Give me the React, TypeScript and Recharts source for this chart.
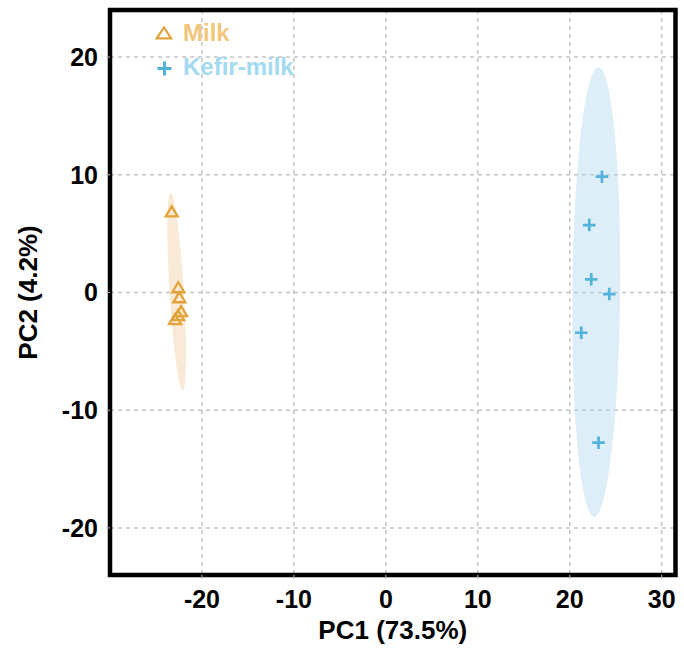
import React from 'react';
import {
  ScatterChart,
  Scatter,
  XAxis,
  YAxis,
  CartesianGrid,
  ReferenceArea,
  Legend,
} from 'recharts';

// ---- data ----
const milkX = [-23.29, -22.57, -22.46, -22.27, -22.93, -22.6];
const milkY = [6.81, 0.36, -0.49, -1.66, -2.34, -2.0];
const kefirX = [23.5, 22.12, 22.34, 24.3, 21.25, 23.13];
const kefirY = [9.84, 5.73, 1.12, -0.13, -3.42, -12.76];

// confidence ellipses: centre, semi-axes (data units) and tilt (x shift per unit y)
const milkEllipse = { cx: -22.75, cy: 0.08, rx: 0.78, ry: 8.4, tilt: -0.078 };
const kefirEllipse = { cx: 22.88, cy: 0.05, rx: 2.6, ry: 19.1, tilt: 0.012 };

const xTicks = [-20, -10, 0, 10, 20, 30];
const yTicks = [-20, -10, 0, 10, 20];
const xDomain: [number, number] = [-30, 31.5];
const yDomain: [number, number] = [-24, 24];

const milkData = milkX.map((x, i) => ({ x, y: milkY[i] }));
const kefirData = kefirX.map((x, i) => ({ x, y: kefirY[i] }));

function ellipseOutline(e: { cx: number; cy: number; rx: number; ry: number; tilt: number }) {
  const pts: { x: number; y: number }[] = [];
  const n = 90;
  for (let i = 0; i <= n; i++) {
    const t = (i / n) * Math.PI * 2;
    const dy = e.ry * Math.sin(t);
    pts.push({ x: e.cx + e.rx * Math.cos(t) + e.tilt * dy, y: e.cy + dy });
  }
  return pts;
}
const milkEllipseData = ellipseOutline(milkEllipse);
const kefirEllipseData = ellipseOutline(kefirEllipse);

const FONT = '"Liberation Sans", Arial, Helvetica, sans-serif';
const MILK_MARK = '#E2A33A';
const KEFIR_MARK = '#52B3DA';
const MILK_TEXT = '#F2C67A';
const KEFIR_TEXT = '#A2DAF0';

const filledPath = (fill: string, opacity: number) => (props: any) => {
  const pts: { x: number; y: number }[] = props.points || [];
  if (!pts.length) return <g />;
  const d = pts.map((p, i) => `${i ? 'L' : 'M'}${p.x},${p.y}`).join(' ') + ' Z';
  return <path d={d} fill={fill} fillOpacity={opacity} stroke="none" />;
};

const Triangle = (props: any) => {
  const { cx, cy } = props;
  if (cx == null || cy == null) return <g />;
  const w = 6;
  const h = 10;
  return (
    <path
      d={`M${cx},${cy - h * 0.6} L${cx + w},${cy + h * 0.4} L${cx - w},${cy + h * 0.4} Z`}
      fill="none"
      stroke={MILK_MARK}
      strokeWidth={2.3}
      strokeLinejoin="miter"
    />
  );
};

const Plus = (props: any) => {
  const { cx, cy } = props;
  if (cx == null || cy == null) return <g />;
  const r = 6.3;
  return (
    <path
      d={`M${cx - r},${cy} L${cx + r},${cy} M${cx},${cy - r} L${cx},${cy + r}`}
      stroke={KEFIR_MARK}
      strokeWidth={2.7}
      fill="none"
    />
  );
};

const Empty = () => <g />;

const LegendContent = () => (
  <div style={{ position: 'relative', width: 200, height: 70, fontFamily: FONT }}>
    <svg width={30} height={70} style={{ position: 'absolute', left: 0, top: 0 }}>
      <path d="M9,11.5 L16.2,22.3 L1.8,22.3 Z" fill="none" stroke={MILK_MARK} strokeWidth={2.2} />
      <path d="M2.5,52.5 L16.5,52.5 M9.5,45.5 L9.5,59.5" stroke={KEFIR_MARK} strokeWidth={3} fill="none" />
    </svg>
    <span
      style={{
        position: 'absolute',
        left: 28,
        top: 4.7,
        fontSize: 24,
        lineHeight: '24px',
        fontWeight: 700,
        color: MILK_TEXT,
        whiteSpace: 'nowrap',
      }}
    >
      Milk
    </span>
    <span
      style={{
        position: 'absolute',
        left: 28,
        top: 38.7,
        fontSize: 24,
        lineHeight: '24px',
        fontWeight: 700,
        color: KEFIR_TEXT,
        whiteSpace: 'nowrap',
      }}
    >
      Kefir-milk
    </span>
  </div>
);

const YTitle = (props: any) => {
  const vb = props.viewBox || {};
  const x = 37;
  const y = (vb.y || 0) + (vb.height || 0) / 2;
  return (
    <text
      x={x}
      y={y}
      transform={`rotate(-90, ${x}, ${y})`}
      textAnchor="middle"
      fontFamily={FONT}
      fontWeight={700}
      fontSize={26}
      fill="#000"
    >
      PC2 (4.2%)
    </text>
  );
};

export default function App() {
  return (
    <div style={{ position: 'absolute', left: 0, top: 0, width: 684, height: 655, background: '#fff' }}>
      <ScatterChart
        width={684}
        height={655}
        margin={{ top: 10, right: 8.5, bottom: 0, left: 0 }}
        style={{ fontFamily: FONT }}
      >
        <Scatter
          data={milkEllipseData}
          line={filledPath('#EBC48A', 0.35)}
          lineType="joint"
          shape={Empty}
          legendType="none"
          isAnimationActive={false}
        />
        <Scatter
          data={kefirEllipseData}
          line={filledPath('#A9D4F0', 0.4)}
          lineType="joint"
          shape={Empty}
          legendType="none"
          isAnimationActive={false}
        />
        <CartesianGrid stroke="#c4c4c4" strokeDasharray="4 4" strokeWidth={1.5} />
        <XAxis
          type="number"
          dataKey="x"
          domain={xDomain}
          ticks={xTicks}
          allowDataOverflow
          height={80}
          axisLine={false}
          tickLine={{ stroke: '#bbb' }}
          tickSize={4}
          tickMargin={11}
          tick={{ fill: '#000', fontSize: 25, fontWeight: 700, fontFamily: FONT }}
          label={{
            value: 'PC1 (73.5%)',
            position: 'insideBottom',
            offset: 16,
            fill: '#000',
            fontSize: 26,
            fontWeight: 700,
            fontFamily: FONT,
          }}
        />
        <YAxis
          type="number"
          dataKey="y"
          domain={yDomain}
          ticks={yTicks}
          allowDataOverflow
          width={110}
          axisLine={false}
          tickLine={{ stroke: '#bbb' }}
          tickSize={4}
          tickMargin={8}
          tick={{ fill: '#000', fontSize: 25, fontWeight: 700, fontFamily: FONT }}
          label={<YTitle />}
        />
        <Scatter name="Milk" data={milkData} shape={Triangle} isAnimationActive={false} />
        <Scatter name="Kefir-milk" data={kefirData} shape={Plus} isAnimationActive={false} />
        <ReferenceArea
          x1={xDomain[0]}
          x2={xDomain[1]}
          y1={yDomain[0]}
          y2={yDomain[1]}
          fill="none"
          stroke="#000"
          strokeWidth={4.5}
          ifOverflow="visible"
        />
        <Legend
          layout="vertical"
          align="center"
          verticalAlign="middle"
          content={LegendContent}
          wrapperStyle={{ position: 'absolute', left: 155, top: 16, width: 200, height: 70 }}
        />
      </ScatterChart>
    </div>
  );
}
